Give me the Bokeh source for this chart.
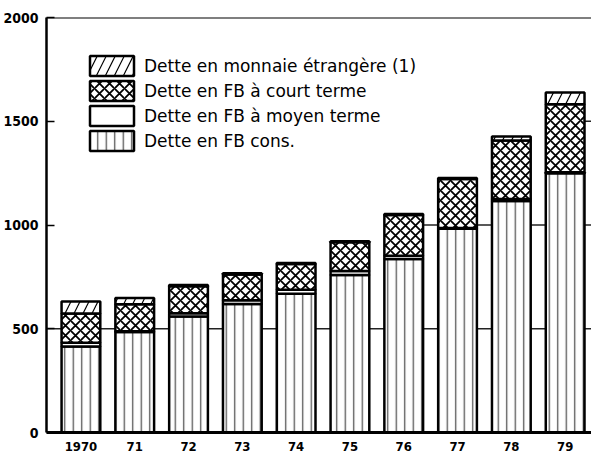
from bokeh.plotting import figure
from bokeh.models import Range1d, Legend, LegendItem, FixedTicker, Span, ColumnDataSource
from bokeh.embed import file_html
from bokeh.resources import INLINE

# ---- data ----
years = ["1970", "71", "72", "73", "74", "75", "76", "77", "78", "79"]
dette_cons = [415, 484, 559, 619, 669, 759, 836, 982, 1116, 1250]
dette_moyen = [17, 4, 16, 18, 19, 19, 16, 3, 9, 4]
dette_court = [141, 130, 130, 125, 124, 139, 196, 237, 282, 328]
dette_etrangere = [58, 30, 6, 5, 5, 5, 5, 5, 19, 56]
y_ticks = [0, 500, 1000, 1500, 2000]
labels = ["Dette en monnaie étrangère (1)", "Dette en FB à court terme",
          "Dette en FB à moyen terme", "Dette en FB cons."]

n = len(years)
xs = list(range(n))
BAR_W = 0.72
X0, X1 = -0.64, 9.49
AX_FONT = "DejaVu Sans Condensed"

src = ColumnDataSource(dict(x=xs, cons=dette_cons, moyen=dette_moyen,
                            court=dette_court, etr=dette_etrangere))

p = figure(width=591, height=454, x_range=Range1d(X0, X1), y_range=Range1d(0, 2000),
           output_backend="svg", toolbar_location=None,
           min_border_left=36, min_border_right=0, min_border_top=17, min_border_bottom=22)
p.outline_line_color = None
p.background_fill_color = "white"
p.xgrid.visible = False
p.ygrid.visible = False

# level segments between bars that reach the level
totals = [a + b + c + d for a, b, c, d in zip(dette_cons, dette_moyen, dette_court, dette_etrangere)]
sx0, sx1, sy = [], [], []
for L in y_ticks[1:-1]:
    if totals[0] >= L:
        sx0.append(X0); sx1.append(xs[0] - BAR_W / 2); sy.append(L)
    for i in range(n - 1):
        if totals[i] >= L and totals[i + 1] >= L:
            sx0.append(xs[i] + BAR_W / 2); sx1.append(xs[i + 1] - BAR_W / 2); sy.append(L)
    if totals[-1] >= L:
        sx0.append(xs[-1] + BAR_W / 2); sx1.append(X1); sy.append(L)
p.segment(x0=sx0, x1=sx1, y0=sy, y1=sy, line_color="#222222", line_width=1.3)

rs = p.vbar_stack(["cons", "moyen", "court", "etr"], x="x", width=BAR_W, source=src,
                  fill_color="white", line_color="black", line_width=2.5,
                  hatch_pattern=["|", " ", "x", "/"],
                  hatch_scale=[8.5, 10, 10, 18],
                  hatch_weight=[1.3, 1, 1.8, 1.2],
                  hatch_color=["#555555", "black", "black", "black"])

# top frame line
p.add_layout(Span(location=2000, dimension="width", line_color="black", line_width=2))

# axes
p.yaxis.ticker = FixedTicker(ticks=y_ticks)
p.yaxis.major_tick_in = 8
p.yaxis.major_tick_out = 0
p.yaxis.minor_tick_line_color = None
p.yaxis.axis_line_width = 2.5
p.yaxis.major_tick_line_width = 1.5
p.yaxis.major_label_standoff = 8
p.yaxis.major_label_text_font = AX_FONT
p.yaxis.major_label_text_font_style = "bold"
p.yaxis.major_label_text_font_size = "14px"
p.yaxis.major_label_text_color = "black"

p.xaxis.ticker = FixedTicker(ticks=xs)
p.xaxis.major_label_overrides = {i: years[i] for i in xs}
p.xaxis.major_tick_in = 0
p.xaxis.major_tick_out = 0
p.xaxis.minor_tick_line_color = None
p.xaxis.axis_line_width = 3
p.xaxis.major_label_standoff = 9
p.xaxis.major_label_text_font = AX_FONT
p.xaxis.major_label_text_font_style = "bold"
p.xaxis.major_label_text_font_size = "13px"
p.xaxis.major_label_text_color = "black"

# legend (top-to-bottom: foreign, court, moyen, cons)
items = [LegendItem(label=labels[0], renderers=[rs[3]]),
         LegendItem(label=labels[1], renderers=[rs[2]]),
         LegendItem(label=labels[2], renderers=[rs[1]]),
         LegendItem(label=labels[3], renderers=[rs[0]])]
legend = Legend(items=items, location=(38, 279), glyph_width=55, glyph_height=25,
                label_height=25, spacing=0, padding=0, margin=0,
                border_line_color=None, background_fill_alpha=0,
                label_text_font="DejaVu Sans", label_text_font_size="17px",
                label_standoff=5, label_text_color="black")
p.add_layout(legend)

open("out.html", "w").write(file_html(p, INLINE))
